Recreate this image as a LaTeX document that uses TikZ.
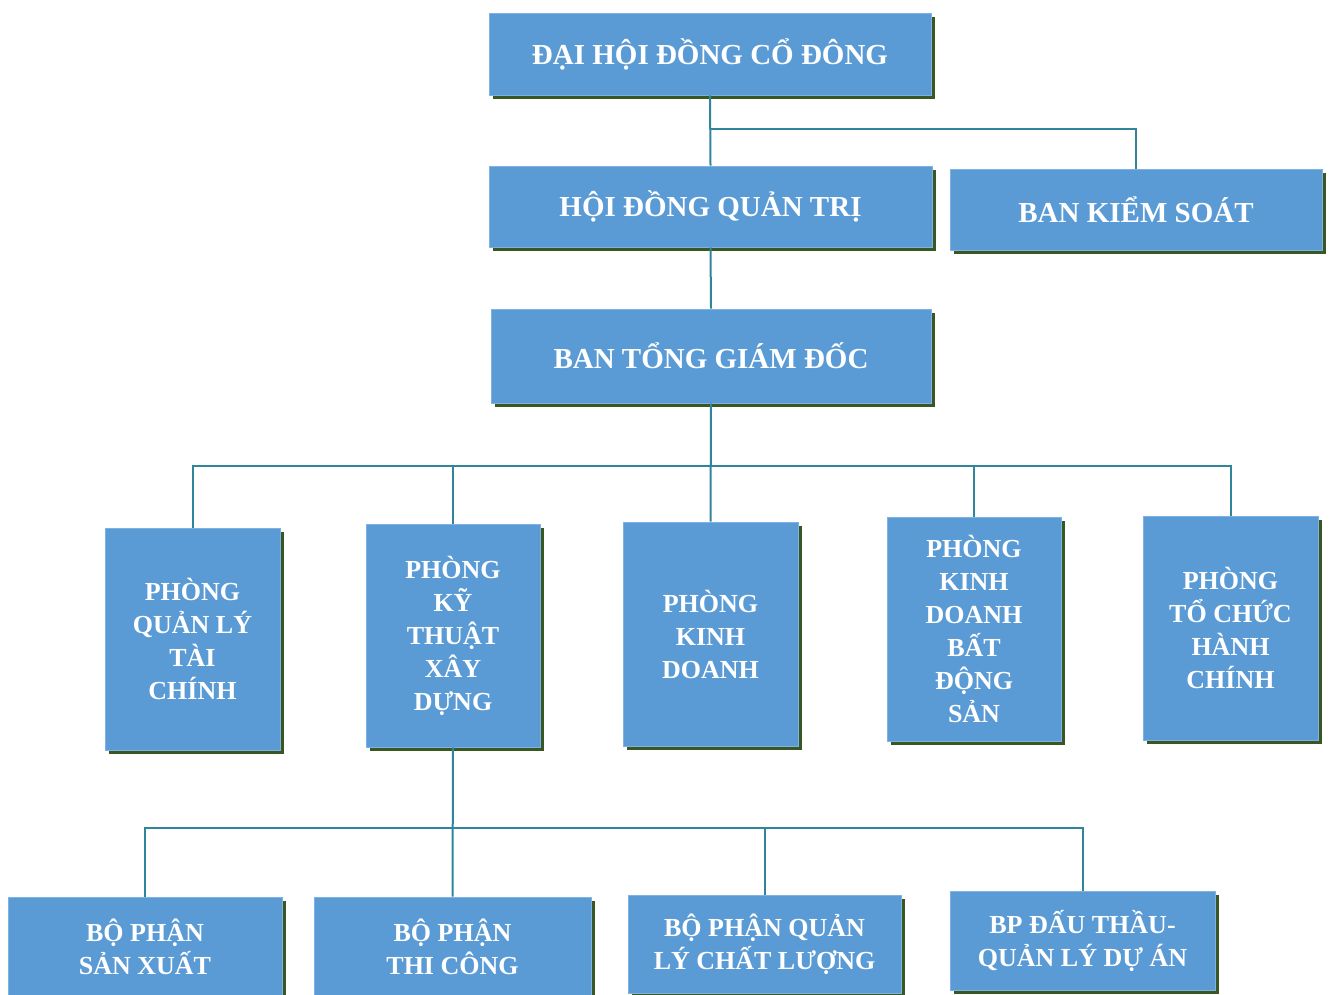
\documentclass[tikz,border=0pt]{standalone}
\usepackage{fontspec}
\setmainfont{Liberation Serif}
\usetikzlibrary{shadows}

\definecolor{boxblue}{RGB}{91,155,213}
\definecolor{boxedge}{RGB}{125,178,226}
\definecolor{shadowgreen}{RGB}{56,87,35}
\definecolor{linkteal}{RGB}{49,133,155}

\tikzset{
    orgbox/.style={draw=boxedge, line width=0.8pt, fill=boxblue, text=white,
        align=center, inner sep=0pt, font=\bfseries\fontsize{26}{33}\selectfont,
        drop shadow={shadow xshift=4pt, shadow yshift=-4pt, fill=shadowgreen, opacity=1}},
    topbox/.style={orgbox, font=\bfseries\fontsize{29}{34}\selectfont},
    link/.style={draw=linkteal, line width=2pt}
}

\begin{document}
\begin{tikzpicture}[x=1pt, y=-1pt]
    \useasboundingbox (0,0) rectangle (1330,995);

    % Top levels
    \node[topbox, minimum width=442pt, minimum height=82pt] (dhdcd) at (710,54) {ĐẠI HỘI ĐỒNG CỔ ĐÔNG};
    \node[topbox, minimum width=443pt, minimum height=81pt] (hdqt) at (710.5,206.5) {HỘI ĐỒNG QUẢN TRỊ};
    \node[topbox, minimum width=372pt, minimum height=81pt] (bks) at (1136,209.5) {BAN KIỂM SOÁT};
    \node[topbox, minimum width=440pt, minimum height=94pt] (btgd) at (711,356) {BAN TỔNG GIÁM ĐỐC};

    % Departments
    \node[orgbox, minimum width=175pt, minimum height=222pt] (pqltc) at (192.5,639) {PHÒNG\\QUẢN LÝ\\TÀI\\CHÍNH};
    \node[orgbox, minimum width=174pt, minimum height=223pt] (pktxd) at (453,635.5) {PHÒNG\\KỸ\\THUẬT\\XÂY\\DỰNG};
    \node[orgbox, minimum width=175pt, minimum height=224pt] (pkd) at (710.5,634) {PHÒNG\\KINH\\DOANH};
    \node[orgbox, minimum width=174pt, minimum height=224pt] (pkdbds) at (974,629) {PHÒNG\\KINH\\DOANH\\BẤT\\ĐỘNG\\SẢN};
    \node[orgbox, minimum width=175pt, minimum height=224pt] (ptchc) at (1230.5,628) {PHÒNG\\TỔ CHỨC\\HÀNH\\CHÍNH};

    % Units under the technical department
    \node[orgbox, minimum width=274pt, minimum height=100pt] (bpsx) at (145,947) {BỘ PHẬN\\SẢN XUẤT};
    \node[orgbox, minimum width=277pt, minimum height=100pt] (bptc) at (452.5,947) {BỘ PHẬN\\THI CÔNG};
    \node[orgbox, minimum width=273pt, minimum height=98pt] (bpqlcl) at (764.5,944) {BỘ PHẬN QUẢN\\LÝ CHẤT LƯỢNG};
    \node[orgbox, minimum width=265pt, minimum height=99pt] (bpdt) at (1082.5,940.5) {BP ĐẤU THẦU-\\QUẢN LÝ DỰ ÁN};

    % Junctions
    \coordinate (j1) at (710,129);
    \coordinate (j2) at (711,466);
    \coordinate (j3) at (452,828);

    % Connectors
    \draw[link] (dhdcd.south) -- (hdqt.north);
    \draw[link] (j1) -| (bks.north);
    \draw[link] (hdqt.south) -- (btgd.north);
    \draw[link] (btgd.south) -- (pkd.north);
    \foreach \n in {pqltc,pktxd,pkdbds,ptchc}
        \draw[link] (\n.north) |- (j2);
    \draw[link] (pktxd.south) -- (bptc.north);
    \foreach \n in {bpsx,bpqlcl,bpdt}
        \draw[link] (\n.north) |- (j3);

\end{tikzpicture}
\end{document}
